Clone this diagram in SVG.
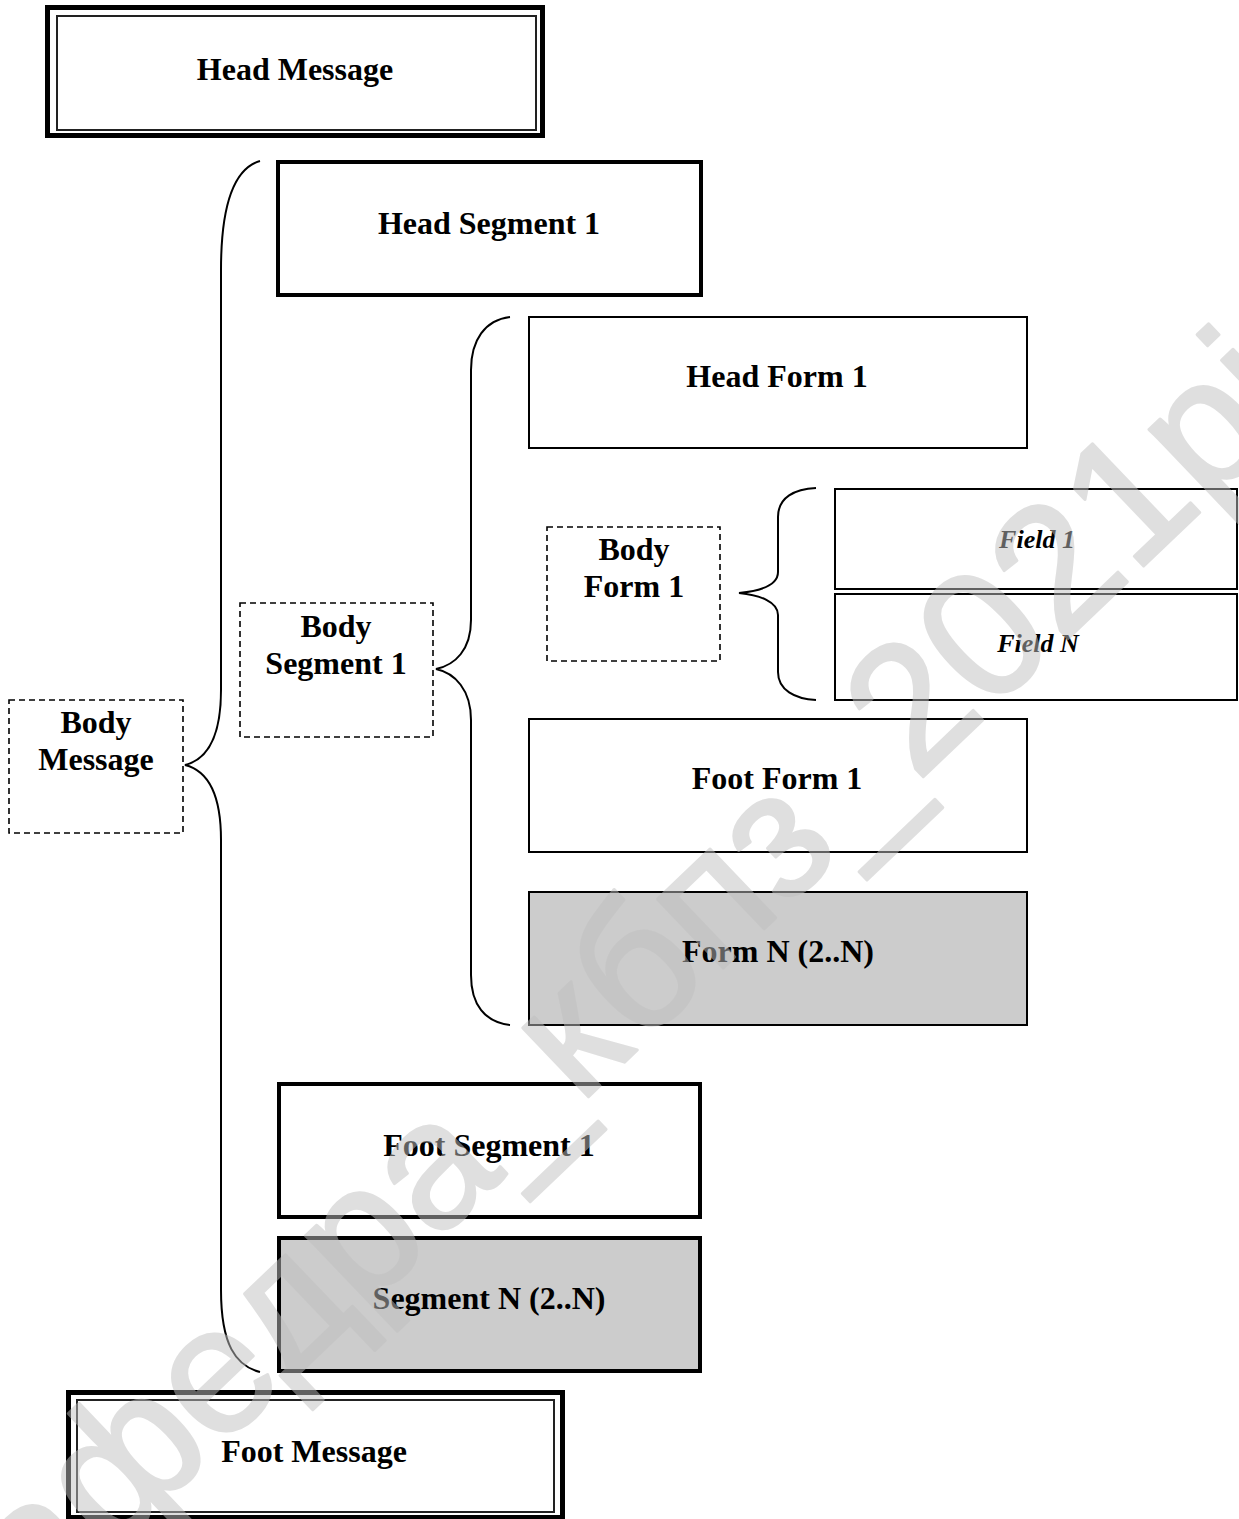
<svg xmlns="http://www.w3.org/2000/svg" width="1239" height="1519" viewBox="0 0 1239 1519">
<style>
.t{font-family:"Liberation Serif","Times New Roman",serif;font-weight:bold;font-size:32px;text-anchor:middle;fill:#000}
.fi{font-family:"Liberation Serif","Times New Roman",serif;font-weight:bold;font-style:italic;font-size:26px;text-anchor:middle;fill:#000}
.thick{fill:#fff;stroke:#000;stroke-width:4}
.thin{fill:#fff;stroke:#000;stroke-width:2}
.grey{fill:#cccccc}
.dash{fill:#fff;stroke:#000;stroke-width:1.6;stroke-dasharray:6 4}
.br{fill:none;stroke:#000;stroke-width:2}
.wm{font-family:"Liberation Sans",Arial,sans-serif;font-size:180px;fill:#c0c0c0;stroke:#c0c0c0;stroke-width:3;stroke-linejoin:round;opacity:0.5}
</style>
<rect width="1239" height="1519" fill="#fff"/>
<g id="connectors">
<path class="br" d="M260,161 C236,168 221,200 221,270 L221,690 C221,740 205,760 185,765 C205,770 221,790 221,840 L221,1290 C221,1345 236,1366 260,1372"/>
<path class="br" d="M510,317 C485,320 471,340 471,370 L471,620 C471,650 455,665 436,669 C455,673 471,690 471,720 L471,975 C471,1005 485,1022 510,1025"/>
<path class="br" d="M816,488 C795,489 778,497 778,517 L778,572 C778,585 760,591 739,593 C760,595 778,602 778,615 L778,672 C778,690 795,699 816,700"/>
</g>
<g id="head-message">
<rect x="47.5" y="7.5" width="495" height="128" fill="#fff" stroke="#000" stroke-width="5"/>
<rect x="57" y="16" width="479" height="114" fill="none" stroke="#222" stroke-width="2"/>
<text class="t" x="295" y="80">Head Message</text>
</g>
<g id="head-segment-1">
<rect class="thick" x="278" y="162" width="423" height="133"/>
<text class="t" x="489" y="234">Head Segment 1</text>
</g>
<g id="head-form-1">
<rect class="thin" x="529" y="317" width="498" height="131"/>
<text class="t" x="777" y="387">Head Form 1</text>
</g>
<g id="body-message">
<rect class="dash" x="9" y="700" width="174" height="133"/>
<text class="t" x="96" y="733">Body</text>
<text class="t" x="96" y="770">Message</text>
</g>
<g id="body-segment-1">
<rect class="dash" x="240" y="603" width="193" height="134"/>
<text class="t" x="336" y="637">Body</text>
<text class="t" x="336" y="674">Segment 1</text>
</g>
<g id="body-form-1">
<rect class="dash" x="547" y="527" width="173" height="134"/>
<text class="t" x="634" y="560">Body</text>
<text class="t" x="634" y="597">Form 1</text>
</g>
<g id="field-1">
<rect class="thin" x="835" y="489" width="402" height="100"/>
<text class="fi" x="1037" y="548">Field 1</text>
</g>
<g id="field-n">
<rect class="thin" x="835" y="594" width="402" height="106"/>
<text class="fi" x="1038" y="652">Field N</text>
</g>
<g id="foot-form-1">
<rect class="thin" x="529" y="719" width="498" height="133"/>
<text class="t" x="777" y="789">Foot Form 1</text>
</g>
<g id="form-n">
<rect class="thin grey" x="529" y="892" width="498" height="133"/>
<text class="t" x="778" y="962">Form N (2..N)</text>
</g>
<g id="foot-segment-1">
<rect class="thick" x="279" y="1084" width="421" height="133"/>
<text class="t" x="489" y="1156">Foot Segment 1</text>
</g>
<g id="segment-n">
<rect class="thick grey" x="279" y="1238" width="421" height="133"/>
<text class="t" x="489" y="1309">Segment N (2..N)</text>
</g>
<g id="foot-message">
<rect x="68.5" y="1392.5" width="494" height="125" fill="#fff" stroke="#000" stroke-width="5"/>
<rect x="77" y="1400" width="477" height="112" fill="none" stroke="#222" stroke-width="2"/>
<text class="t" x="314" y="1462">Foot Message</text>
</g>
<g id="watermark">
<text class="wm" transform="translate(-22,1680) rotate(-43.7)">кафедра_кбпз_2021рік</text>
</g>
</svg>
